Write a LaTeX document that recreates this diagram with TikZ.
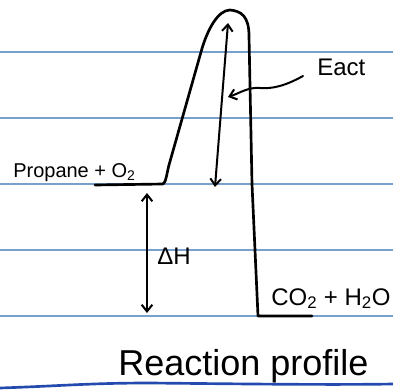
\documentclass[tikz,border=0pt]{standalone}
\usepackage{fontspec}
\setmainfont{Liberation Sans}
\usetikzlibrary{arrows.meta}
\definecolor{rulecol}{RGB}{120,160,205}
\definecolor{bottomblue}{RGB}{35,75,175}
\begin{document}
\begin{tikzpicture}[x=0.75pt,y=-0.75pt,
  ruled/.style={draw=rulecol,line width=1.1pt},
  curve/.style={draw=black,line width=2pt,line cap=round,line join=round},
  dbl/.style={draw=black,line width=1.5pt,{Straight Barb[length=5pt,width=8pt]}-{Straight Barb[length=5pt,width=8pt]}},
  lbl/.style={inner sep=0pt,anchor=base west}]
\useasboundingbox (0,0) rectangle (393,390);
\fill[white] (0,0) rectangle (393,390);
\foreach \y in {52,118,184,250,316} \draw[ruled] (0,\y) -- (393,\y);
\draw[draw=bottomblue,line width=2pt] (0,388) .. controls (60,386) and (90,383) .. (150,383) .. controls (250,384) and (330,385) .. (393,384);
% profile
\coordinate (r0) at (95,185);
\coordinate (r1) at (163,184);
\coordinate (peak) at (230,10);
\coordinate (p0) at (258,316);
\coordinate (p1) at (312,316);
\draw[curve] (r0) -- (r1) .. controls (166,183) and (167,172) .. (169,165) -- (201,52)
  .. controls (207,30) and (218,10) .. (peak)
  .. controls (241,11) and (249,16) .. (249,36) -- (252,184) -- (p0) -- (p1);
% Eact arrow
\coordinate (eTop) at (228,23);
\coordinate (eBot) at (215,187);
\draw[dbl] (eBot) -- (eTop);
% squiggle
\coordinate (sq0) at (228,97);
\coordinate (sq1) at (303,76);
\draw[line width=1.5pt,line cap=round,{Straight Barb[length=5pt,width=8pt]}-] (sq0) .. controls (240,93) and (248,87) .. (260,88) .. controls (272,89) and (285,86) .. (sq1);
\node[lbl,font=\fontsize{18}{18}\selectfont] (eact) at (317,75) {Eact};
% Delta H arrow
\coordinate (hTop) at (147,193);
\coordinate (hBot) at (147,313);
\draw[dbl] (hTop) -- (hBot);
\node[lbl,font=\fontsize{18}{18}\selectfont] (dh) at (157,264) {ΔH};
% labels
\node[lbl,font=\fontsize{15}{15}\selectfont] (react) at (13,177) {Propane + O\textsubscript{2}};
\node[lbl,font=\fontsize{18}{18}\selectfont] (prod) at (271,305) {CO\textsubscript{2} + H\textsubscript{2}O};
\node[lbl,font=\fontsize{27}{27}\selectfont] (title) at (118,375) {Reaction profile};
\end{tikzpicture}
\end{document}
